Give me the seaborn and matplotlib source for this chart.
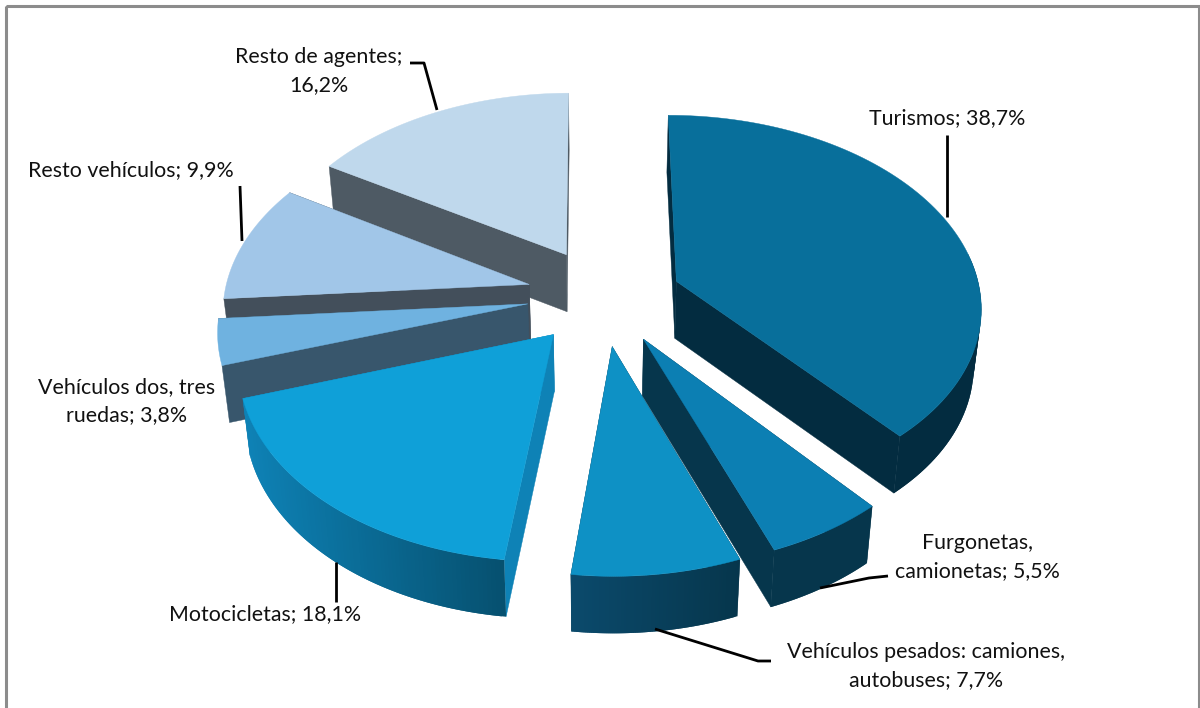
import numpy as np
import matplotlib
matplotlib.use("Agg")
import matplotlib.pyplot as plt
from matplotlib.patches import Rectangle
import seaborn as sns

labels = ["Turismos", "Furgonetas,\ncamionetas", "Vehículos pesados: camiones,\nautobuses", "Motocicletas",
          "Vehículos dos, tres\nruedas", "Resto vehículos", "Resto de agentes"]
values = [38.7, 5.5, 7.7, 18.1, 3.8, 9.9, 16.2]
separators = [" ", " ", " ", " ", " ", " ", "\n"]

# styles per slice
explode = [0.27, 0.24, 0.24, 0.25, 0.24, 0.24, 0.25]
shift_x = [0, 5, 3, 3, 0, 0, 3]
shift_y = [-1, -1, 0, -3, -5, -5, -5]
top_colors = ["#086f9b", "#0c7fb3", "#0e91c5", "#0fa0d8", "#6fb2e0", "#a1c6e8", "#bfd8ec"]
radial_colors = ["#032c40", "#06364c", "#06364c", "#0e82b6", "#38566c", "#434f5b", "#4e5a64"]
outer_left = ["#032c40", "#06364c", "#0b4a6c", "#0e82b6", None, None, None]
outer_right = ["#032c40", "#06364c", "#06364c", "#06506f", None, None, None]

label_pos = [(947, 118), (977, 557), (926, 666), (265, 614), (127, 401), (131, 170), (319, 71)]
leader_lines = [[(947, 135), (947, 217)], [(888, 576), (869, 578), (820, 588)],
                [(655, 629), (758, 661), (771, 661)], [(336, 562), (336, 602)], None,
                [(240, 186), (242, 241)], [(410, 63), (424, 63), (437, 110)]]

CX, CY = 600, 300
A, B, K = 305, 190, 0.12
DEPTH, SHRINK = 57, 0.98
START = 0.0


def project(gx, gy):
    w = 1 + K * gy
    return CX + A * gx / w, CY - B * gy / w


def drop(x, y):
    return CX + (np.asarray(x) - CX) * SHRINK, np.asarray(y) + DEPTH


sns.set_theme(style="white")
plt.rcParams["font.family"] = ["Lato", "DejaVu Sans"]

fig = plt.figure(figsize=(12, 7.08), dpi=100)
ax = fig.add_axes([0, 0, 1, 1])
ax.set_xlim(0, 1200)
ax.set_ylim(708, 0)
ax.axis("off")

ax.add_patch(Rectangle((6, 6), 1193, 720, fill=False, ec="#8c8c8c", lw=2.2))

edges = START + np.cumsum([0] + values) * 3.6
order = [6, 5, 4, 3, 0, 1, 2]  # back to front

for z, i in enumerate(order):
    a0, a1 = edges[i], edges[i + 1]
    mid = np.radians((a0 + a1) / 2)
    ex, ey = explode[i] * np.sin(mid), explode[i] * np.cos(mid)
    ang = np.linspace(a0, a1, 90)
    t = np.radians(ang)
    x, y = project(ex + np.sin(t), ey + np.cos(t))
    x, y = x + shift_x[i], y + shift_y[i]
    ax0, ay0 = project(ex, ey)
    ax0, ay0 = ax0 + shift_x[i], ay0 + shift_y[i]
    bx, by = drop(x, y)
    apx, apy = drop(ax0, ay0)

    # radial side walls
    for j in (0, -1):
        ax.fill([ax0, x[j], bx[j], apx], [ay0, y[j], by[j], apy], color=radial_colors[i], lw=0.3, zorder=1 + z)
    # outer wall with gradient, left to right on screen
    if outer_left[i] is not None:
        cols = sns.blend_palette([outer_left[i], outer_right[i]], 256)
        xmin, xmax = x.min(), x.max()
        for j in range(len(x) - 1):
            k = min(j + 2, len(x) - 1)
            f = ((x[j] + x[j + 1]) / 2 - xmin) / max(xmax - xmin, 1)
            if np.cos(t[j]) < 0.15:
                ax.fill([x[j], x[k], bx[k], bx[j]], [y[j], y[k], by[k], by[j]],
                        color=cols[int(f * 255)], lw=0, zorder=1 + z)
    # top face
    ax.fill(np.r_[ax0, x], np.r_[ay0, y], color=top_colors[i], lw=0.3, zorder=1.5 + z)

for name, val, sep, pos, line in zip(labels, values, separators, label_pos, leader_lines):
    txt = f"{name};{sep}{val:.1f}%".replace(".", ",")
    ax.text(pos[0], pos[1], txt, ha="center", va="center", fontsize=15.4,
            color="#111111", linespacing=1.55, zorder=20)
    if line is not None:
        ax.plot(*zip(*line), color="black", lw=2, solid_capstyle="butt", solid_joinstyle="round", zorder=19)

fig.savefig("out.png", dpi=100)
